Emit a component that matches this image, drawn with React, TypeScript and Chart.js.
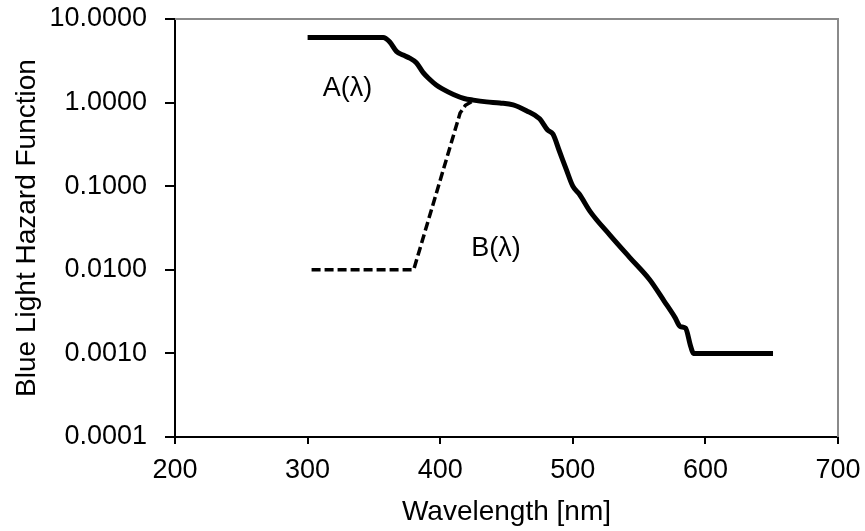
import React, { useEffect, useRef } from 'react';
import { Chart, registerables } from 'chart.js';
Chart.register(...registerables);

// A(λ) curve: wavelength [nm] and hazard value
const waveA = [300, 357, 362, 367, 372, 377, 382, 387, 392, 397, 402, 410, 418, 425, 435, 445, 455, 465, 475, 481, 485, 490, 495, 500, 505, 513, 528, 543, 558, 569, 577, 581, 585, 589, 591, 651];
const hazardA = [6.0, 6.0, 5.3, 4.1, 3.7, 3.4, 3.0, 2.3, 1.9, 1.62, 1.45, 1.25, 1.12, 1.07, 1.02, 0.99, 0.94, 0.8, 0.64, 0.47, 0.42, 0.26, 0.16, 0.1, 0.08, 0.05, 0.026, 0.014, 0.0076, 0.0042, 0.0027, 0.0021, 0.002, 0.0012, 0.001, 0.001];

// B(λ) curve
const waveB = [303, 380, 415, 419, 424];
const hazardB = [0.01, 0.01, 0.75, 0.93, 1.03];

const xTicks = [200, 300, 400, 500, 600, 700];
const yTicks = [0.0001, 0.001, 0.01, 0.1, 1, 10];

const curveLabels = [
  { text: 'A(λ)', x: 330, y: 1.46 },
  { text: 'B(λ)', x: 442, y: 0.0182 },
];

const FONT = "'Liberation Sans', Arial, sans-serif";

const framePlugin = {
  id: 'frame',
  beforeDatasetsDraw(chart: any) {
    const { ctx, chartArea } = chart;
    const { left, right, top, bottom } = chartArea;
    ctx.save();
    ctx.strokeStyle = '#8a8a8a';
    ctx.lineWidth = 2;
    ctx.beginPath();
    ctx.moveTo(left, top);
    ctx.lineTo(right, top);
    ctx.lineTo(right, bottom);
    ctx.stroke();
    ctx.restore();
  },
  afterDatasetsDraw(chart: any) {
    const { ctx } = chart;
    const xs = chart.scales.x;
    const ys = chart.scales.y;
    ctx.save();
    ctx.fillStyle = '#000';
    ctx.font = `27px ${FONT}`;
    ctx.textAlign = 'center';
    ctx.textBaseline = 'middle';
    curveLabels.forEach((l) => {
      ctx.fillText(l.text, xs.getPixelForValue(l.x), ys.getPixelForValue(l.y));
    });
    ctx.restore();
  },
};

export default function App() {
  const ref = useRef<HTMLCanvasElement | null>(null);
  useEffect(() => {
    if (!ref.current) return;
    const chart = new Chart(ref.current, {
      type: 'line',
      data: {
        datasets: [
          {
            label: 'A(λ)',
            data: waveA.map((w, i) => ({ x: w, y: hazardA[i] })),
            borderColor: '#000',
            borderWidth: 5,
            pointRadius: 0,
            cubicInterpolationMode: 'monotone',
            fill: false,
          },
          {
            label: 'B(λ)',
            data: waveB.map((w, i) => ({ x: w, y: hazardB[i] })),
            borderColor: '#000',
            borderWidth: 3.5,
            borderDash: [9, 4],
            pointRadius: 0,
            tension: 0,
            fill: false,
          },
        ],
      },
      options: {
        animation: false,
        responsive: false,
        maintainAspectRatio: false,
        layout: { padding: { top: 19, right: 27, left: 0, bottom: 0 } },
        plugins: { legend: { display: false }, tooltip: { enabled: false } },
        scales: {
          x: {
            type: 'linear',
            min: 200,
            max: 700,
            afterBuildTicks: (s: any) => {
              s.ticks = xTicks.map((v) => ({ value: v }));
            },
            afterFit: (s: any) => {
              s.height = 94;
              s.paddingLeft = 0;
              s.paddingRight = 0;
            },
            grid: { drawOnChartArea: false, drawTicks: true, tickLength: 7, color: '#000', lineWidth: 2 },
            border: { display: true, color: '#000', width: 2 },
            ticks: { color: '#000', font: { family: FONT, size: 27 }, padding: 10, maxRotation: 0 },
            title: {
              display: true,
              text: 'Wavelength [nm]',
              color: '#000',
              font: { family: FONT, size: 28 },
              padding: { top: 0, bottom: 2 },
            },
          },
          y: {
            type: 'logarithmic',
            min: 0.0001,
            max: 10,
            afterBuildTicks: (s: any) => {
              s.ticks = yTicks.map((v) => ({ value: v }));
            },
            afterFit: (s: any) => {
              s.width = 175;
              s.paddingTop = 0;
              s.paddingBottom = 0;
            },
            grid: { drawOnChartArea: false, drawTicks: true, tickLength: 10, color: '#000', lineWidth: 2 },
            border: { display: true, color: '#000', width: 2 },
            ticks: {
              color: '#000',
              font: { family: FONT, size: 27 },
              padding: 18,
              callback: (v: any) => Number(v).toFixed(4),
            },
            title: {
              display: true,
              text: 'Blue Light Hazard Function',
              color: '#000',
              font: { family: FONT, size: 28 },
              padding: { top: 10, bottom: 0 },
            },
          },
        },
      },
      plugins: [framePlugin],
    } as any);
    return () => chart.destroy();
  }, []);
  return (
    <div style={{ position: 'fixed', left: 0, top: 0, width: 865, height: 531, background: '#fff' }}>
      <canvas ref={ref} width={865} height={531} style={{ display: 'block' }} />
    </div>
  );
}
